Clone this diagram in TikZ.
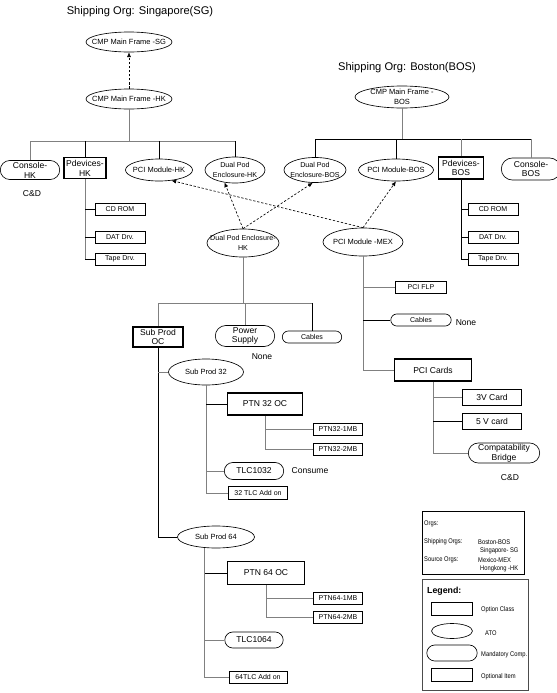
\documentclass[tikz,border=0pt]{standalone}
\usepackage{fontspec}
\setmainfont{Liberation Sans}
\newfontfamily\narrowsans[FakeStretch=0.85]{Liberation Sans}
\usetikzlibrary{shapes.geometric,shapes.misc,arrows.meta}

\begin{document}
\begin{tikzpicture}[x=0.03cm, y=-0.03cm, every node/.style={align=center, inner sep=0pt},
    smalltxt/.style={font=\fontsize{6}{7.5}\selectfont},
    tinytxt/.style={font=\narrowsans\fontsize{5.8}{6.6}\selectfont},
    midtxt/.style={font=\fontsize{7.3}{8.4}\selectfont},
    titletxt/.style={font=\fontsize{9.5}{11}\selectfont},
    optclass/.style={draw, rectangle, line width=1.3pt, midtxt},
    ato/.style={draw, ellipse, line width=0.55pt, inner sep=-8pt, font=\fontsize{6.4}{8}\selectfont},
    mandcomp/.style={draw, rounded rectangle, line width=0.55pt, inner xsep=-4pt, midtxt},
    optitem/.style={draw, rectangle, line width=0.55pt, smalltxt},
    gline/.style={draw=black!50, line width=0.55pt},
    bline/.style={draw=black, line width=0.6pt},
    deplink/.style={draw=black, line width=0.55pt, dash pattern=on 2pt off 1.5pt, -{Latex[length=4pt,width=3.5pt]}}]
    \useasboundingbox (0,0) rectangle (557,693);

    \node[titletxt] (titlesg) at (140,12) {Shipping Org: Singapore(SG)};
    \node[titletxt] (titlebos) at (407,68) {Shipping Org: Boston(BOS)};

    \node[ato, minimum width=2.58cm, minimum height=0.6cm] (cmpsg) at (129,42) {CMP Main Frame -SG};
    \node[ato, minimum width=2.58cm, minimum height=0.6cm] (cmphk) at (129,99) {CMP Main Frame -HK};
    \node[ato, minimum width=2.82cm, minimum height=0.66cm] (cmpbos) at (402,97) {CMP Main Frame -\\BOS};
    \draw[deplink] (cmphk) -- (cmpsg);

    \node[mandcomp, minimum width=1.5cm, minimum height=0.57cm] (consolehk) at (30,170) {Console-\\HK};
    \node[optclass, minimum width=1.26cm, minimum height=0.63cm] (pdhk) at (85,168) {Pdevices-\\HK};
    \node[ato, minimum width=2.01cm, minimum height=0.66cm] (pcihk) at (159,170) {PCI Module-HK};
    \node[ato, font=\fontsize{6.1}{8}\selectfont, minimum width=1.8cm, minimum height=0.78cm] (dphk) at (235,170) {Dual Pod\\Enclosure-HK};
    \node[ato, font=\fontsize{6.1}{8}\selectfont, minimum width=1.86cm, minimum height=0.75cm] (dpbos) at (315,170) {Dual Pod\\Enclosure-BOS};
    \node[ato, minimum width=2.25cm, minimum height=0.66cm] (pcibos) at (396,170) {PCI Module-BOS};
    \node[optclass, minimum width=1.35cm, minimum height=0.66cm] (pdbos) at (461,168) {Pdevices-\\BOS};
    \node[mandcomp, minimum width=1.5cm, minimum height=0.66cm] (consolebos) at (531,169) {Console-\\BOS};
    \node[midtxt] (cdhk) at (32,194) {C\&D};

    \coordinate (hkbar) at (0,141);
    \coordinate (bosbar) at (0,139);
    \draw[gline] (cmphk.south) -- (cmphk.south |- hkbar);
    \draw[gline] (consolehk.north) |- (dphk.north |- hkbar);
    \foreach \n in {pdhk,pcihk,dphk}
        \draw[bline] (\n.north) -- (\n.north |- hkbar);
    \draw[gline] (cmpbos.south) -- (cmpbos.south |- bosbar);
    \draw[bline] (dpbos.north) |- (consolebos.north |- bosbar);
    \draw[bline] (pcibos.north) -- (pcibos.north |- bosbar);
    \foreach \n in {pdbos,consolebos}
        \draw[gline] (\n.north) -- (\n.north |- bosbar);

    \node[optitem, minimum width=1.5cm, minimum height=0.36cm] (cdromhk) at (120,209) {CD ROM};
    \node[optitem, minimum width=1.5cm, minimum height=0.36cm] (dathk) at (120,237) {DAT Drv.};
    \node[optitem, minimum width=1.5cm, minimum height=0.36cm] (tapehk) at (120,259) {Tape Drv.};
    \node[optitem, minimum width=1.5cm, minimum height=0.36cm] (cdrombos) at (493,209) {CD ROM};
    \node[optitem, minimum width=1.5cm, minimum height=0.36cm] (datbos) at (493,237) {DAT Drv.};
    \node[optitem, minimum width=1.5cm, minimum height=0.36cm] (tapebos) at (493,259) {Tape Drv.};
    \draw[gline] (pdhk.south) -- (pdhk.south |- tapehk.west);
    \draw[bline] (pdbos.south) -- (pdbos.south |- tapebos.west);
    \foreach \n in {cdromhk,dathk,tapehk}
        \draw[bline] (\n.west) -- (\n.west -| pdhk.south);
    \foreach \n in {cdrombos,datbos,tapebos}
        \draw[bline] (\n.west) -- (\n.west -| pdbos.south);

    \node[ato, font=\fontsize{6.1}{8}\selectfont, minimum width=2.16cm, minimum height=0.84cm] (dplow) at (243,243) {Dual Pod Enclosure-\\HK};
    \node[ato, minimum width=2.4cm, minimum height=0.84cm] (pcimex) at (363,242) {PCI Module -MEX};
    \draw[deplink] (dplow.north) -- (dphk.230);
    \draw[deplink] (dplow.north) -- (dpbos.260);
    \draw[deplink] (pcimex.north) -- (pcihk.320);
    \draw[deplink] (pcimex.north) -- (pcibos.south);

    \node[optclass, minimum width=1.5cm, minimum height=0.6cm] (subprodoc) at (158,337) {Sub Prod\\OC};
    \node[mandcomp, minimum width=1.5cm, minimum height=0.63cm] (pwr) at (245,336) {Power\\Supply};
    \node[mandcomp, smalltxt, minimum width=1.5cm, minimum height=0.36cm] (cableslow) at (312,337) {Cables};
    \node[midtxt] (nonepwr) at (262,357) {None};
    \coordinate (lowbar) at (0,303);
    \draw[gline] (dplow.south) -- (dplow.south |- lowbar);
    \draw[gline] (subprodoc.north) |- (cableslow.north |- lowbar);
    \draw[gline] (pwr.north) -- (pwr.north |- lowbar);
    \draw[bline] (cableslow.north) -- (cableslow.north |- lowbar);

    \node[ato, minimum width=2.25cm, minimum height=0.78cm] (sp32) at (206,372) {Sub Prod 32};
    \node[optclass, minimum width=2.25cm, minimum height=0.66cm] (ptn32) at (265,404) {PTN 32 OC};
    \node[optitem, minimum width=1.47cm, minimum height=0.36cm] (ptn32a) at (338,429) {PTN32-1MB};
    \node[optitem, minimum width=1.47cm, minimum height=0.36cm] (ptn32b) at (338,449) {PTN32-2MB};
    \node[mandcomp, minimum width=1.5cm, minimum height=0.51cm] (tlc1032) at (254,471) {TLC1032};
    \node[midtxt] (consume) at (310,471) {Consume};
    \node[optitem, minimum width=1.77cm, minimum height=0.39cm] (addon32) at (258,493) {32 TLC Add on};

    \node[ato, minimum width=2.31cm, minimum height=0.66cm] (sp64) at (216,537) {Sub Prod 64};
    \node[optclass, minimum width=2.31cm, minimum height=0.69cm] (ptn64) at (266,573) {PTN 64 OC};
    \node[optitem, minimum width=1.47cm, minimum height=0.36cm] (ptn64a) at (338,598) {PTN64-1MB};
    \node[optitem, minimum width=1.47cm, minimum height=0.36cm] (ptn64b) at (338,617) {PTN64-2MB};
    \node[mandcomp, minimum width=1.47cm, minimum height=0.48cm] (tlc1064) at (254,640) {TLC1064};
    \node[optitem, minimum width=1.74cm, minimum height=0.36cm] (addon64) at (258,677) {64TLC Add on};

    \draw[bline] (subprodoc.south) |- (sp64.west);
    \draw[gline] (sp32.west) -- (sp32.west -| subprodoc.south);
    \draw[gline] (sp32.south) |- (addon32.west);
    \draw[bline] (ptn32.west) -- (ptn32.west -| sp32.south);
    \draw[gline] (tlc1032.west) -- (tlc1032.west -| sp32.south);
    \draw[gline] (ptn32.south) |- (ptn32b.west);
    \draw[gline] (ptn32a.west) -- (ptn32a.west -| ptn32.south);
    \draw[gline] (sp64.224) |- (addon64.west);
    \draw[bline] (ptn64.west) -- (ptn64.west -| sp64.224);
    \draw[gline] (tlc1064.west) -- (tlc1064.west -| sp64.224);
    \draw[gline] (ptn64.south) |- (ptn64b.west);
    \draw[gline] (ptn64a.west) -- (ptn64a.west -| ptn64.south);

    \node[optitem, minimum width=1.53cm, minimum height=0.36cm] (pciflp) at (421,287) {PCI FLP};
    \node[mandcomp, smalltxt, minimum width=1.53cm, minimum height=0.36cm] (cablesmex) at (421,320) {Cables};
    \node[midtxt] (nonemex) at (466,323) {None};
    \node[optclass, minimum width=2.31cm, minimum height=0.66cm] (pcicards) at (433,370) {PCI Cards};
    \node[optitem, midtxt, minimum width=1.77cm, minimum height=0.48cm] (card3v) at (492,397) {3V Card};
    \node[optitem, midtxt, minimum width=1.77cm, minimum height=0.48cm] (card5v) at (492,421) {5 V card};
    \node[mandcomp, minimum width=1.86cm, minimum height=0.6cm] (compat) at (504,453) {Compatability\\Bridge};
    \node[midtxt] (cdmex) at (510,478) {C\&D};

    \draw[gline] (pcimex.south) |- (pcicards.west);
    \draw[gline] (pciflp.west) -- (pciflp.west -| pcimex.south);
    \draw[bline] (cablesmex.west) -- (cablesmex.west -| pcimex.south);
    \draw[gline] (pcicards.south) |- (compat.west);
    \draw[gline] (card3v.west) -- (card3v.west -| pcicards.south);
    \draw[bline] (card5v.west) -- (card5v.west -| pcicards.south);

    \draw[line width=0.55pt] (422,511) rectangle (524,574);
    \node[tinytxt, anchor=west] (orgshead) at (424,524) {Orgs:};
    \node[tinytxt, anchor=west] (shiporgs) at (424,542) {Shipping Orgs:};
    \node[tinytxt, anchor=west] (shipbos) at (478,542) {Boston-BOS};
    \node[tinytxt, anchor=west] (shipsg) at (480,551) {Singapore- SG};
    \node[tinytxt, anchor=west] (srcorgs) at (424,560) {Source Orgs:};
    \node[tinytxt, anchor=west] (srcmex) at (478,560) {Mexico-MEX};
    \node[tinytxt, anchor=west] (srchk) at (480,569) {Hongkong -HK};

    \draw[draw=black!70, line width=0.55pt] (422,579) rectangle (528,690);
    \node[font=\bfseries\fontsize{7.5}{9}\selectfont, anchor=west] (legendhead) at (427,591) {Legend:};
    \node[optclass, minimum width=1.23cm, minimum height=0.39cm] (legoc) at (452,609) {};
    \node[tinytxt, anchor=west] (legoctxt) at (481,610) {Option Class};
    \node[ato, minimum width=1.23cm, minimum height=0.45cm] (legato) at (452,631) {};
    \node[tinytxt, anchor=west] (legatotxt) at (485,633) {ATO};
    \node[mandcomp, minimum width=1.23cm, minimum height=0.48cm] (legmc) at (452,653) {};
    \node[tinytxt, anchor=west] (legmctxt) at (481,655) {Mandatory Comp.};
    \node[optitem, minimum width=1.23cm, minimum height=0.39cm] (legoi) at (452,675) {};
    \node[tinytxt, anchor=west] (legoitxt) at (481,677) {Optional Item};
\end{tikzpicture}
\end{document}
